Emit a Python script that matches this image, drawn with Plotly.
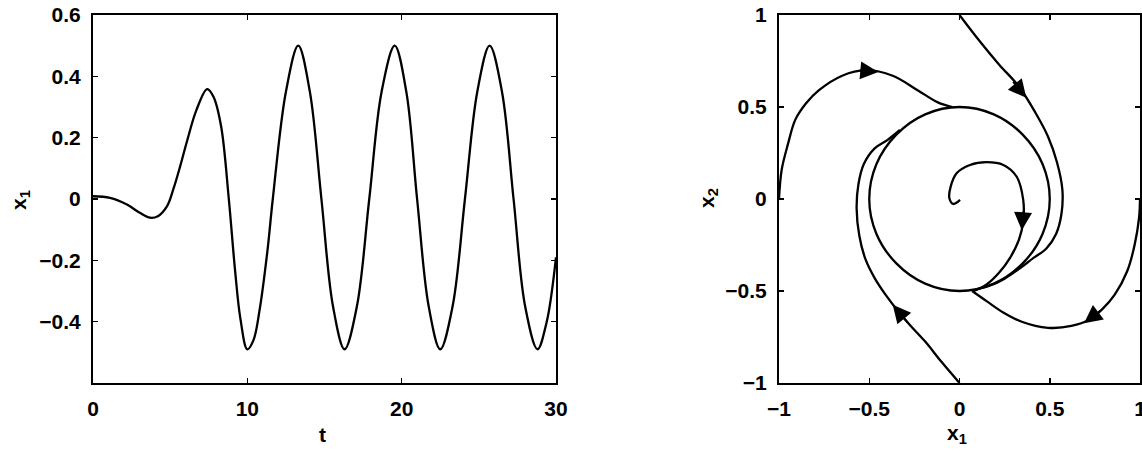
import plotly.graph_objects as go

# ---------------- data: left panel (time response) ----------------
t_vals = [0, 1.1, 2.2, 3.0, 3.7, 4.2, 4.8, 5.2, 5.65, 6.1, 6.7, 7.4, 7.8, 8.3, 8.8,
          9.2, 9.55, 10.0, 10.4, 10.8, 11.3, 11.65, 12.5, 13.3, 14.05, 14.8, 15.55,
          16.3, 17.1, 17.9, 18.7, 19.55, 20.3, 21.0, 21.75, 22.5, 23.3, 24.1, 24.9,
          25.7, 26.5, 27.25, 28.0, 28.8, 29.4, 30.0]
x1_vals = [0.009, 0.004, -0.018, -0.044, -0.061, -0.056, -0.023, 0.031, 0.107, 0.19,
           0.29, 0.358, 0.334, 0.237, 0.0, -0.23, -0.39, -0.49, -0.46, -0.36, -0.17,
           0.0, 0.35, 0.50, 0.35, 0.0, -0.35, -0.49, -0.35, 0.0, 0.35, 0.50, 0.35,
           0.0, -0.35, -0.49, -0.35, 0.0, 0.35, 0.50, 0.35, 0.0, -0.35, -0.49, -0.40,
           -0.19]

# ---------------- data: right panel (phase portrait) ----------------
# trajectory starting at (-1, 0)
traj_a_x = [-1.0, -0.985, -0.95, -0.91, -0.85, -0.78, -0.65, -0.52, -0.37, -0.23, -0.12, -0.04]
traj_a_y = [0.0, 0.16, 0.30, 0.43, 0.52, 0.59, 0.67, 0.70, 0.67, 0.59, 0.525, 0.5]
# trajectory starting at (0, -1)
traj_b_x = [0.0, -0.1, -0.19, -0.27, -0.34, -0.41, -0.47, -0.52, -0.555, -0.57, -0.56, -0.53, -0.47, -0.40, -0.33]
traj_b_y = [-1.0, -0.885, -0.775, -0.69, -0.61, -0.52, -0.43, -0.33, -0.2, -0.05, 0.08, 0.19, 0.275, 0.32, 0.375]
# trajectory starting at (0, 1)
traj_c_x = [0.0, 0.11, 0.22, 0.33, 0.42, 0.49, 0.54, 0.57, 0.565, 0.535, 0.48, 0.41, 0.33, 0.25, 0.17, 0.087]
traj_c_y = [1.0, 0.86, 0.73, 0.61, 0.47, 0.34, 0.2, 0.05, -0.08, -0.19, -0.27, -0.32, -0.38, -0.433, -0.47, -0.492]
# trajectory starting at (1, 0)
traj_d_x = [1.0, 0.995, 0.97, 0.93, 0.86, 0.79, 0.72, 0.62, 0.49, 0.345, 0.24, 0.15, 0.07]
traj_d_y = [0.0, -0.1, -0.25, -0.39, -0.52, -0.6, -0.655, -0.69, -0.70, -0.667, -0.615, -0.555, -0.5]
# trajectory starting near the origin
traj_e_x = [0.003, -0.034, -0.056, -0.049, -0.016, 0.058, 0.15, 0.243, 0.317, 0.353, 0.353,
            0.33, 0.28, 0.22, 0.15, 0.08]
traj_e_y = [-0.005, -0.027, 0.004, 0.067, 0.14, 0.185, 0.2, 0.185, 0.121, -0.005, -0.12,
            -0.22, -0.32, -0.40, -0.465, -0.5]
# limit cycle
cycle_x = [0.5, 0.46, 0.35, 0.19, 0.0, -0.19, -0.35, -0.46, -0.5, -0.46, -0.35, -0.19, 0.0,
           0.19, 0.35, 0.46, 0.5]
cycle_y = [0.0, -0.19, -0.35, -0.46, -0.5, -0.46, -0.35, -0.19, 0.0, 0.19, 0.35, 0.46, 0.5,
           0.46, 0.35, 0.19, 0.0]

# arrows (tip and tail points on trajectories)
arrow_tip_x = [-0.45, 0.37, 0.345, 0.69, -0.37]
arrow_tip_y = [0.69, 0.55, -0.17, -0.675, -0.575]
arrow_tail_x = [-0.56, 0.29, 0.353, 0.79, -0.28]
arrow_tail_y = [0.70, 0.645, -0.06, -0.60, -0.68]

# ticks
left_xticks = [0, 10, 20, 30]
left_xtext = ["0", "10", "20", "30"]
left_yticks = [0.6, 0.4, 0.2, 0, -0.2, -0.4]
left_ytext = ["0.6", "0.4", "0.2", "0", "\u22120.2", "\u22120.4"]
right_ticks = [-1, -0.5, 0, 0.5, 1]
right_text = ["\u22121", "\u22120.5", "0", "0.5", "1"]

W, H = 1142, 455
FONT = dict(family="Liberation Sans, Arial, sans-serif", size=21, color="black", weight="bold")
LINE = dict(color="black", width=2.3, shape="spline", smoothing=1.0)

fig = go.Figure()
fig.add_trace(go.Scatter(x=t_vals, y=x1_vals, mode="lines", line=LINE, xaxis="x", yaxis="y"))
for xs, ys in [(traj_a_x, traj_a_y), (traj_b_x, traj_b_y), (traj_c_x, traj_c_y),
               (traj_d_x, traj_d_y), (traj_e_x, traj_e_y), (cycle_x, cycle_y)]:
    fig.add_trace(go.Scatter(x=xs, y=ys, mode="lines", line=LINE, xaxis="x2", yaxis="y2"))

axis_common = dict(showgrid=False, zeroline=False, showline=True, linecolor="black",
                   linewidth=2, mirror="ticks", ticks="inside", ticklen=5, tickwidth=1.5,
                   tickcolor="black", tickfont=FONT, fixedrange=True, automargin=False,
                   ticklabeloverflow="allow")

fig.update_layout(
    template="none",
    width=W, height=H,
    margin=dict(l=0, r=0, t=0, b=0, pad=0, autoexpand=False),
    paper_bgcolor="white", plot_bgcolor="white",
    showlegend=False,
    xaxis=dict(domain=[93 / W, 556 / W], range=[0, 30], tickvals=left_xticks,
               ticktext=left_xtext, anchor="y", ticklabelstandoff=6, **axis_common),
    yaxis=dict(domain=[1 - 383 / H, 1 - 15 / H], range=[-0.6, 0.6], tickvals=left_yticks,
               ticktext=left_ytext, anchor="x", ticklabelstandoff=6, **axis_common),
    xaxis2=dict(domain=[779 / W, 1140 / W], range=[-1, 1], tickvals=right_ticks,
                ticktext=right_text, anchor="y2", ticklabelstandoff=6, **axis_common),
    yaxis2=dict(domain=[1 - 383 / H, 1 - 15 / H], range=[-1, 1], tickvals=right_ticks,
                ticktext=right_text, anchor="x2", ticklabelstandoff=6, **axis_common),
)

# axis titles as annotations
titles = [("t", 322 / W, 1 - 434 / H, 0), ("x<sub>1</sub>", 20 / W, 1 - 200 / H, -90),
          ("x<sub>1</sub>", 957 / W, 1 - 434 / H, 0), ("x<sub>2</sub>", 708 / W, 1 - 198 / H, -90)]
for txt, px, py, ang in titles:
    fig.add_annotation(text=txt, x=px, y=py, xref="paper", yref="paper", showarrow=False,
                       textangle=ang, font=FONT, xanchor="center", yanchor="middle")

for tx, ty, sx, sy in zip(arrow_tip_x, arrow_tip_y, arrow_tail_x, arrow_tail_y):
    fig.add_annotation(x=tx, y=ty, ax=sx, ay=sy, xref="x2", yref="y2", axref="x2",
                       ayref="y2", text="", showarrow=True, arrowhead=2, arrowsize=2.0,
                       arrowwidth=1.8, arrowcolor="black", standoff=0)

fig.write_html("out.html", config={"displayModeBar": False, "staticPlot": True},
               post_script="document.body.style.margin='0';document.body.style.overflow='hidden';")
